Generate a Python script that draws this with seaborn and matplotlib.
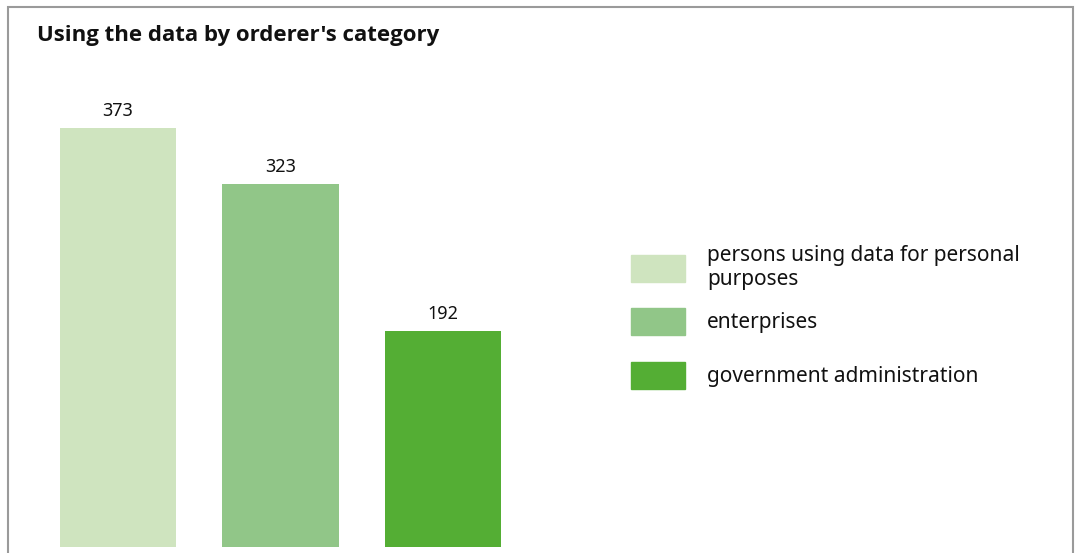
import pandas as pd
import matplotlib.pyplot as plt
import seaborn as sns
from matplotlib.patches import Rectangle

categories = ['persons using data for personal\npurposes', 'enterprises', 'government administration']
values = [373, 323, 192]
colors = ['#cfe4bf', '#91c688', '#54ae34']

df = pd.DataFrame({'category': categories, 'value': values})

sns.set_style('white')
plt.rcParams['font.family'] = ['Noto Sans', 'DejaVu Sans']

fig = plt.figure(figsize=(10.79, 5.53), dpi=100)
W, H = 1079, 553
ax = fig.add_axes([36.75 / W, 1 - 547 / H, (524.25 - 36.75) / W, (547 - 97.7) / H])

sns.barplot(data=df, x='category', y='value', hue='category', palette=colors,
            width=0.714, saturation=1, legend=False, linewidth=0, ax=ax)
ax.set_xlim(-0.5, 2.5)
ax.set_ylim(0, 400)
for container in ax.containers:
    ax.bar_label(container, padding=6, fontsize=13, color='#111111')
ax.set_axis_off()

# legend: first (two-line) entry on its own so the row spacing stays even
handles = [Rectangle((0, 0), 1, 1, color=c) for c in colors]
leg_kw = dict(frameon=False, fontsize=15, handlelength=2.6, handleheight=1.6,
              handletextpad=1.05, borderpad=0, borderaxespad=0, labelcolor='#111111')
fig.legend(handles[:1], categories[:1], loc='center left', labelspacing=0,
           bbox_to_anchor=(631 / W, 1 - 267.5 / H), **leg_kw)
fig.legend(handles[1:], categories[1:], loc='center left', labelspacing=1.3,
           bbox_to_anchor=(631 / W, 1 - 348.5 / H), **leg_kw)

fig.text(37 / W, 1 - 35 / H, "Using the data by orderer's category", fontsize=16,
         fontweight='bold', family=['Open Sans', 'DejaVu Sans'],
         va='center', ha='left', color='#111111')

fig.patches.append(Rectangle((7.5 / W, -0.05), (1073 - 7.5) / W, 1.05 - 7.5 / H,
                             transform=fig.transFigure, fill=False,
                             edgecolor='#9a9a9a', linewidth=1.5))

fig.savefig('out.png', dpi=100)
